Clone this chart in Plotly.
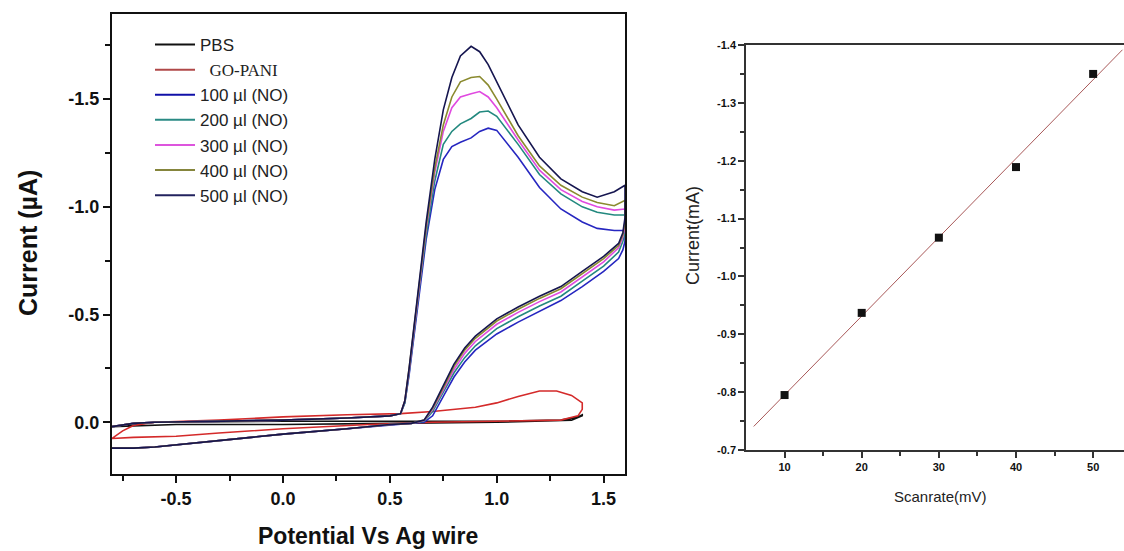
import numpy as np
import plotly.graph_objects as go

# ---------------- Left panel data (cyclic voltammograms) ----------------
# shared potential grid, forward sweep (baseline then oxidation peak) and reverse sweep
X_FWD = [-0.80, -0.70, -0.60, -0.30, 0.00, 0.30, 0.50, 0.55, 0.57, 0.59, 0.61, 0.64, 0.67,
         0.71, 0.75, 0.79, 0.83, 0.88, 0.92, 0.96, 1.00, 1.10, 1.20, 1.30, 1.40, 1.47, 1.55, 1.60]
X_REV = [1.60, 1.59, 1.57, 1.50, 1.40, 1.30, 1.20, 1.10, 1.00, 0.90, 0.85, 0.80, 0.75, 0.70,
         0.66, 0.60, 0.50, 0.30, 0.00, -0.30, -0.50, -0.60, -0.70, -0.80]

BASE_FWD = [0.02, 0.005, 0.0, -0.005, -0.01, -0.02, -0.03]
BASE_REV = [0.005, 0.01, 0.03, 0.055, 0.085, 0.105, 0.115, 0.12, 0.12]

NO_500_FWD = BASE_FWD + [-0.04, -0.10, -0.25, -0.42, -0.68, -0.93, -1.22, -1.45, -1.60, -1.70, -1.745,
                         -1.72, -1.66, -1.58, -1.38, -1.23, -1.13, -1.07, -1.045, -1.07, -1.10]
NO_500_REV = [-0.95, -0.88, -0.83, -0.77, -0.70, -0.63, -0.585, -0.535, -0.48, -0.40, -0.345, -0.27,
              -0.17, -0.07, -0.01] + BASE_REV

NO_400_FWD = BASE_FWD + [-0.04, -0.10, -0.25, -0.42, -0.67, -0.91, -1.18, -1.38, -1.51, -1.58, -1.60,
                         -1.605, -1.565, -1.50, -1.33, -1.19, -1.10, -1.045, -1.02, -1.005, -1.03]
NO_400_REV = [-0.93, -0.87, -0.82, -0.76, -0.69, -0.62, -0.575, -0.525, -0.47, -0.39, -0.335, -0.26,
              -0.16, -0.065, -0.01] + BASE_REV

NO_300_FWD = BASE_FWD + [-0.04, -0.10, -0.24, -0.41, -0.66, -0.90, -1.16, -1.35, -1.46, -1.51, -1.525,
                         -1.535, -1.51, -1.46, -1.31, -1.17, -1.08, -1.025, -1.0, -0.985, -0.99]
NO_300_REV = [-0.91, -0.86, -0.81, -0.745, -0.675, -0.605, -0.56, -0.51, -0.455, -0.375, -0.32, -0.245,
              -0.15, -0.06, -0.008] + BASE_REV

NO_200_FWD = BASE_FWD + [-0.04, -0.09, -0.23, -0.40, -0.64, -0.87, -1.12, -1.29, -1.35, -1.385, -1.41,
                         -1.44, -1.445, -1.42, -1.29, -1.15, -1.06, -1.0, -0.975, -0.962, -0.962]
NO_200_REV = [-0.88, -0.84, -0.79, -0.725, -0.655, -0.585, -0.54, -0.49, -0.435, -0.355, -0.30, -0.23,
              -0.14, -0.05, -0.005] + BASE_REV

NO_100_FWD = BASE_FWD + [-0.04, -0.09, -0.22, -0.38, -0.62, -0.85, -1.08, -1.22, -1.28, -1.30, -1.32,
                         -1.35, -1.365, -1.355, -1.23, -1.09, -0.99, -0.93, -0.90, -0.89, -0.89]
NO_100_REV = [-0.84, -0.80, -0.76, -0.70, -0.63, -0.565, -0.515, -0.465, -0.41, -0.335, -0.28, -0.21,
              -0.12, -0.03, 0.0] + BASE_REV

PBS_X = [-0.80, -0.60, 0.00, 0.50, 1.00, 1.30, 1.38, 1.40, 1.40, 1.35, 1.00, 0.50, 0.00, -0.50, -0.80]
PBS_Y = [0.02, 0.0, -0.005, -0.005, -0.005, -0.01, -0.025, -0.035, -0.03, -0.01, 0.0, 0.005, 0.01, 0.01, 0.02]

GOPANI_X = [-0.80, -0.75, -0.70, -0.60, -0.30, 0.00, 0.30, 0.55, 0.70, 0.90, 1.00, 1.10, 1.20, 1.28,
            1.35, 1.40, 1.40, 1.38, 1.30, 1.00, 0.70, 0.40, 0.00, -0.30, -0.50, -0.70, -0.80]
GOPANI_Y = [0.075, 0.04, 0.015, 0.0, -0.01, -0.025, -0.035, -0.04, -0.05, -0.07, -0.09, -0.12, -0.145,
            -0.145, -0.125, -0.09, -0.06, -0.03, -0.01, -0.005, 0.0, 0.01, 0.03, 0.05, 0.065, 0.07, 0.075]

# tick values
LEFT_XTICKS = [-0.5, 0.0, 0.5, 1.0, 1.5]
LEFT_YTICKS = [-1.5, -1.0, -0.5, 0.0]
RIGHT_XTICKS = [10, 20, 30, 40, 50]
RIGHT_YTICKS = [-1.4, -1.3, -1.2, -1.1, -1.0, -0.9, -0.8, -0.7]

# ---------------- Right panel data ----------------
SCAN_RATE = [10, 20, 30, 40, 50]
PEAK_CURRENT = [-0.795, -0.937, -1.067, -1.189, -1.350]
FIT_RANGE = [6, 53.8]

SERIES = [
    ("PBS", PBS_X, PBS_Y, "#111111"),
    ("  <span style=\"font-family:'Liberation Serif'\">GO-PANI</span>", GOPANI_X, GOPANI_Y, "#d42a2a"),
    ("100 \u00b5l (NO)", X_FWD + X_REV, NO_100_FWD + NO_100_REV, "#2626c0"),
    ("200 \u00b5l (NO)", X_FWD + X_REV, NO_200_FWD + NO_200_REV, "#23897f"),
    ("300 \u00b5l (NO)", X_FWD + X_REV, NO_300_FWD + NO_300_REV, "#e04ae0"),
    ("400 \u00b5l (NO)", X_FWD + X_REV, NO_400_FWD + NO_400_REV, "#8a8a2e"),
    ("500 \u00b5l (NO)", X_FWD + X_REV, NO_500_FWD + NO_500_REV, "#15154f"),
]
LEGEND_COLORS = ["#111111", "#b04848", "#1010a8", "#2a8a84", "#dd55dd", "#85853c", "#22225e"]

W, H = 1124, 551
fig = go.Figure()

for (name, xs, ys, col), lc in zip(SERIES, LEGEND_COLORS):
    fig.add_trace(go.Scatter(x=xs, y=ys, mode="lines", name=name, line=dict(color=col, width=1.6),
                             xaxis="x", yaxis="y", showlegend=False, hoverinfo="skip"))
    # legend proxy
    fig.add_trace(go.Scatter(x=[None], y=[None], mode="lines", name=name, line=dict(color=lc, width=2),
                             xaxis="x", yaxis="y"))

slope, intercept = np.polyfit(SCAN_RATE, PEAK_CURRENT, 1)
fit_x = np.array(FIT_RANGE)
fig.add_trace(go.Scatter(x=fit_x, y=slope * fit_x + intercept, mode="lines",
                         line=dict(color="#a85858", width=1), xaxis="x2", yaxis="y2", showlegend=False))
fig.add_trace(go.Scatter(x=SCAN_RATE, y=PEAK_CURRENT, mode="markers",
                         marker=dict(symbol="square", size=8, color="#111111"),
                         xaxis="x2", yaxis="y2", showlegend=False))

bold = dict(family="Liberation Sans", size=18, color="#111111", weight="bold")
small_bold = dict(family="Liberation Sans", size=11, color="#111111", weight="bold")


def labels(vals):
    return [f"{v:.1f}" for v in vals]


fig.update_layout(
    width=W, height=H, margin=dict(l=0, r=0, t=0, b=0, autoexpand=False),
    paper_bgcolor="white", plot_bgcolor="white",
    showlegend=True,
    legend=dict(x=150 / W, y=1 - 27 / H, xanchor="left", yanchor="top", bgcolor="rgba(0,0,0,0)",
                font=dict(family="Liberation Sans", size=17, color="#222222"),
                tracegroupgap=0, itemwidth=40),
    xaxis=dict(domain=[112 / W, 625 / W], range=[-0.8, 1.6], anchor="y", automargin=False,
               showline=True, linecolor="#111111", linewidth=2, mirror=True,
               ticks="outside", ticklen=7, tickwidth=2, tickcolor="#111111",
               tickvals=LEFT_XTICKS, ticktext=labels(LEFT_XTICKS),
               minor=dict(tickvals=[-0.75, -0.25, 0.25, 0.75, 1.25], ticks="outside", ticklen=5,
                          tickwidth=2, tickcolor="#111111"),
               showgrid=False, zeroline=False, tickfont=bold),
    yaxis=dict(domain=[1 - 474 / H, 1 - 14 / H], range=[0.24, -1.895], anchor="x", automargin=False,
               showline=True, linecolor="#111111", linewidth=2, mirror=True,
               ticks="outside", ticklen=7, tickwidth=2, tickcolor="#111111",
               tickvals=LEFT_YTICKS, ticktext=labels(LEFT_YTICKS),
               minor=dict(tickvals=[-1.75, -1.25, -0.75, -0.25], ticks="outside", ticklen=5,
                          tickwidth=2, tickcolor="#111111"),
               showgrid=False, zeroline=False, tickfont=bold),
    xaxis2=dict(domain=[746 / W, 1.0], range=[5, 54], anchor="y2", automargin=False,
                showline=True, linecolor="#333333", linewidth=1.5, mirror=True,
                ticks="outside", ticklen=6, tickwidth=1.5, tickcolor="#333333",
                tickvals=RIGHT_XTICKS, ticktext=[str(v) for v in RIGHT_XTICKS],
                minor=dict(tickvals=[15, 25, 35, 45], ticks="outside", ticklen=4, tickwidth=1.5,
                           tickcolor="#333333"),
                showgrid=False, zeroline=False, tickfont=small_bold),
    yaxis2=dict(domain=[1 - 450 / H, 1 - 45 / H], range=[-0.7, -1.4], anchor="x2", automargin=False,
                showline=True, linecolor="#333333", linewidth=1.5, mirror=False,
                ticks="outside", ticklen=6, tickwidth=1.5, tickcolor="#333333",
                tickvals=RIGHT_YTICKS, ticktext=labels(RIGHT_YTICKS),
                minor=dict(tickvals=[-1.35, -1.25, -1.15, -1.05, -0.95, -0.85, -0.75], ticks="outside",
                           ticklen=4, tickwidth=1.5, tickcolor="#333333"),
                showgrid=False, zeroline=False, tickfont=small_bold),
    annotations=[
        dict(text="Current (\u00b5A)", x=28 / W, y=1 - 243 / H, xref="paper", yref="paper",
             xanchor="center", yanchor="middle",
             textangle=-90, showarrow=False, font=dict(family="Liberation Sans", size=25,
                                                       color="#111111", weight="bold")),
        dict(text="Potential Vs Ag wire", x=368 / W, y=1 - 536 / H, xref="paper", yref="paper",
             xanchor="center", yanchor="middle",
             showarrow=False, font=dict(family="Liberation Sans", size=23, color="#111111",
                                        weight="bold")),
        dict(text="Current(mA)", x=693 / W, y=1 - 236 / H, xref="paper", yref="paper",
             xanchor="center", yanchor="middle",
             textangle=-90, showarrow=False, font=dict(family="Liberation Sans", size=18,
                                                       color="#222222")),
        dict(text="Scanrate(mV)", x=940 / W, y=1 - 496 / H, xref="paper", yref="paper",
             xanchor="center", yanchor="middle",
             showarrow=False, font=dict(family="Liberation Sans", size=15, color="#222222")),
    ],
)

fig.write_html("out.html", config={"displayModeBar": False},
               post_script="document.body.style.margin='0';")
